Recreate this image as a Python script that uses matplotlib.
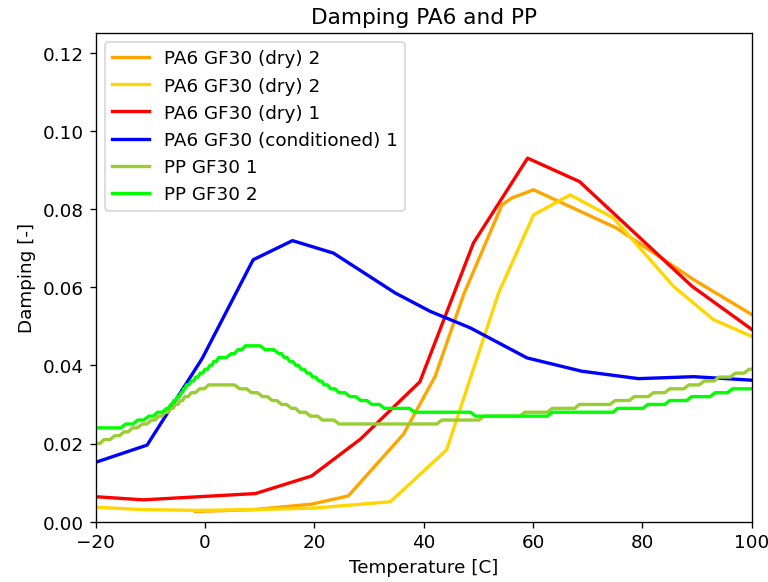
"""
Damping of PA6 and PP (GF30) samples over temperature
"""

import numpy as np
import matplotlib
matplotlib.use('Agg')
import matplotlib.pyplot as plt


# PA6 GF30 (dry) 2 - first run
temp_pa6_dry2a = [-1.8, 9.0, 19.5, 26.2, 36.3, 42.1, 47.3, 54.3, 56.1, 60.1, 75.3, 89.4, 100.0]
damp_pa6_dry2a = [0.0026, 0.0031, 0.0045, 0.0066, 0.0224, 0.0372, 0.0581, 0.0810, 0.0828, 0.0849, 0.0751, 0.0619, 0.0530]

# PA6 GF30 (dry) 2 - second run
temp_pa6_dry2b = [-20.0, -11.3, -1.0, 9.0, 20.0, 33.9, 44.2, 53.7, 60.1, 66.8, 74.7, 85.7, 93.0, 100.0]
damp_pa6_dry2b = [0.0037, 0.0031, 0.0029, 0.0031, 0.0035, 0.0051, 0.0184, 0.0585, 0.0785, 0.0836, 0.0777, 0.0602, 0.0517, 0.0474]

# PA6 GF30 (dry) 1
temp_pa6_dry1 = [-20.0, -11.3, 9.2, 19.5, 28.4, 39.3, 49.1, 59.0, 68.5, 89.1, 100.0]
damp_pa6_dry1 = [0.0064, 0.0056, 0.0072, 0.0117, 0.0211, 0.0358, 0.0713, 0.0930, 0.0870, 0.0602, 0.0492]

# PA6 GF30 (conditioned) 1
temp_pa6_cond = [-20.0, -10.6, -0.5, 8.8, 16.0, 23.5, 34.8, 41.2, 48.5, 58.9, 68.9, 79.3, 89.4, 100.0]
damp_pa6_cond = [0.0152, 0.0196, 0.0418, 0.0670, 0.0719, 0.0687, 0.0585, 0.0538, 0.0496, 0.0419, 0.0385, 0.0366, 0.0371, 0.0362]

# PP curves come out of the machine rounded to 0.001 -> stored as (start temp, level)
temp_pp1 = [-20.0, -18.5, -16.5, -14.8, -13.3, -11.5, -9.8, -8.5, -7.3, -6.3, -5.4, -4.5, -3.7, -2.5, -1.0, 0.7,
            6.3, 8.5, 10.5, 12.3, 14.0, 15.8, 17.3, 19.3, 21.5, 24.5,
            43.3, 51.0, 58.5, 63.5, 68.5, 75.0, 78.5, 82.0, 85.0, 88.5, 91.3, 94.0, 97.0, 99.5, 100.0]
damp_pp1 = [0.020, 0.021, 0.022, 0.023, 0.024, 0.025, 0.026, 0.027, 0.028, 0.029, 0.030, 0.031, 0.032, 0.033, 0.034, 0.035,
            0.034, 0.033, 0.032, 0.031, 0.030, 0.029, 0.028, 0.027, 0.026, 0.025,
            0.026, 0.027, 0.028, 0.029, 0.030, 0.031, 0.032, 0.033, 0.034, 0.035, 0.036, 0.037, 0.038, 0.039, 0.039]

temp_pp2 = [-20.0, -14.5, -12.3, -10.3, -8.7, -7.0, -6.3, -5.7, -5.0, -4.4, -3.9, -3.4, -2.5, -1.7, -0.9, 0.0, 0.9, 1.6,
            2.5, 4.8, 6.0, 7.4,
            11.0, 13.5, 14.5, 15.5, 16.6, 17.6, 18.7, 19.7, 20.8, 21.8, 23.0, 24.5, 26.5, 28.5, 30.5, 32.8, 38.3, 49.5,
            63.5, 75.5, 81.0, 85.0, 89.0, 93.3, 96.5, 100.0]
damp_pp2 = [0.024, 0.025, 0.026, 0.027, 0.028, 0.029, 0.030, 0.031, 0.032, 0.033, 0.034, 0.035, 0.036, 0.037, 0.038, 0.039, 0.040, 0.041,
            0.042, 0.043, 0.044, 0.045,
            0.044, 0.043, 0.042, 0.041, 0.040, 0.039, 0.038, 0.037, 0.036, 0.035, 0.034, 0.033, 0.032, 0.031, 0.030, 0.029, 0.028, 0.027,
            0.028, 0.029, 0.030, 0.031, 0.032, 0.033, 0.034, 0.034]


def StepLine(t, d, ramp=0.9):
    """
    turns (start temp, level) pairs into a polyline with short slopes between the
    levels, the way the logger samples look when plotted as a line
    """
    xs = [t[0]]
    ys = [d[0]]
    for k in range(1, len(t)):
        gap = t[k] - t[k-1]
        w = min(ramp, 0.5*gap)
        xs.append(t[k] - w)
        ys.append(d[k-1])
        xs.append(t[k])
        ys.append(d[k])
    return xs, ys


def PlotDamping():
    """
    plots all damping curves into one graph
    """
    plt.rcParams['font.size'] = 11
    fig = plt.figure(figsize=(6.4, 4.858), dpi=120)
    ax = fig.add_subplot(1, 1, 1)
    fig.subplots_adjust(left=0.1246, right=0.9788, top=0.9417, bottom=0.1034)

    lw = 2
    ax.plot(temp_pa6_dry2a, damp_pa6_dry2a, color='orange', lw=lw, label='PA6 GF30 (dry) 2')
    ax.plot(temp_pa6_dry2b, damp_pa6_dry2b, color='gold', lw=lw, label='PA6 GF30 (dry) 2')
    ax.plot(temp_pa6_dry1, damp_pa6_dry1, color='red', lw=lw, label='PA6 GF30 (dry) 1')
    ax.plot(temp_pa6_cond, damp_pa6_cond, color='blue', lw=lw, label='PA6 GF30 (conditioned) 1')

    x1, y1 = StepLine(temp_pp1, damp_pp1)
    ax.plot(x1, y1, color='yellowgreen', lw=lw, label='PP GF30 1')
    x2, y2 = StepLine(temp_pp2, damp_pp2)
    ax.plot(x2, y2, color='lime', lw=lw, label='PP GF30 2')

    ax.set_xlim(-20, 100)
    ax.set_ylim(0., 0.125)
    ax.set_xticks(np.arange(-20, 101, 20))
    ax.set_yticks(np.arange(0, 0.121, 0.02))

    ax.set_xlabel('Temperature [C]')
    ax.set_ylabel('Damping [-]')
    ax.set_title('Damping PA6 and PP', fontsize=13)
    ax.legend(loc='upper left')

    fig.savefig('out.png', dpi=120)


if __name__ == '__main__':
    PlotDamping()
